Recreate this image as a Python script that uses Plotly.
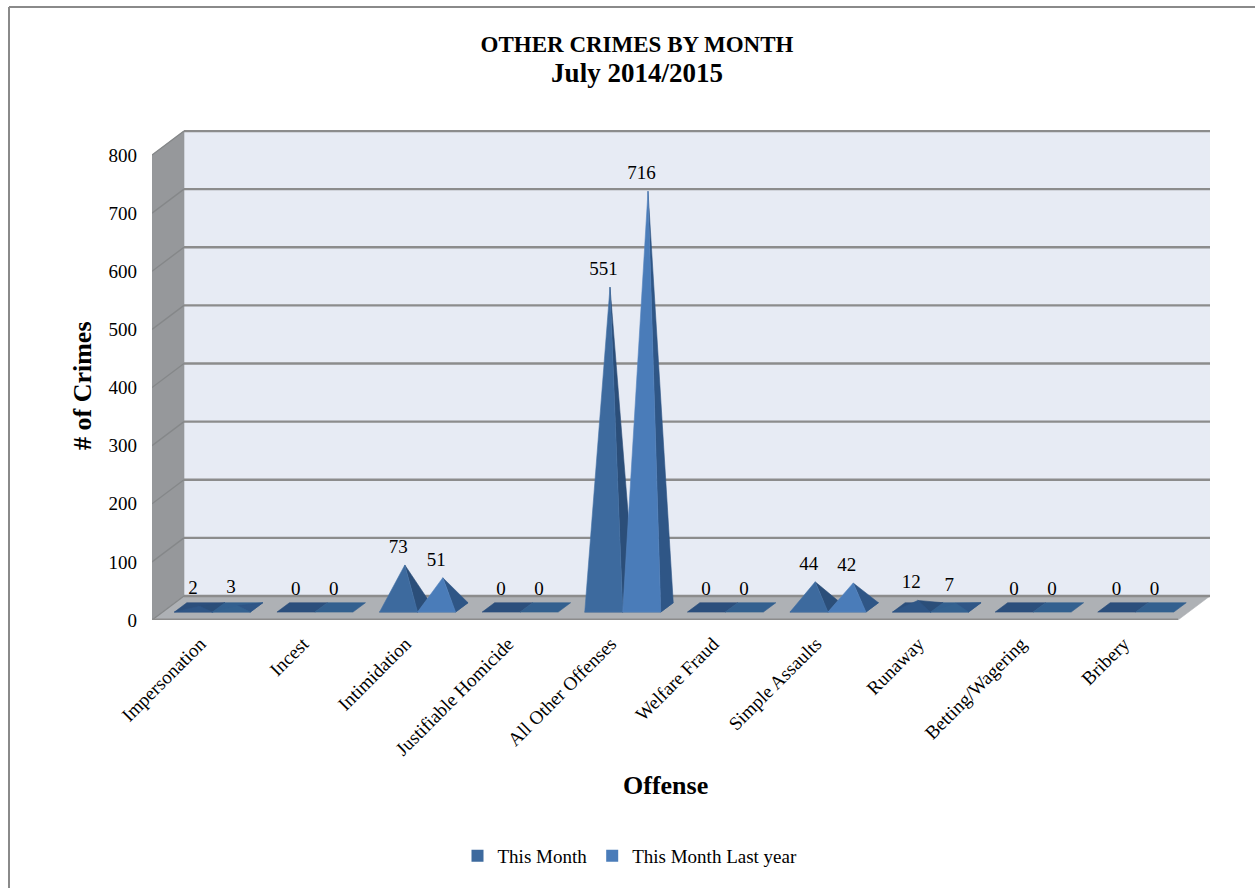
import plotly.graph_objects as go

offenses = ["Impersonation", "Incest", "Intimidation", "Justifiable Homicide", "All Other Offenses",
            "Welfare Fraud", "Simple Assaults", "Runaway", "Betting/Wagering", "Bribery"]
this_month = [2, 0, 73, 0, 551, 0, 44, 12, 0, 0]
last_year = [3, 0, 51, 0, 716, 0, 42, 7, 0, 0]
y_ticks = [0, 100, 200, 300, 400, 500, 600, 700, 800]

W, H = 1255, 888
L, R, T, B = 152, 1210, 130, 620      # plot box, px
PX_X = 102.6                          # px per category
PX_Y = (620 - 155) / 800              # px per crime
DX, DY = 32 / PX_X, 24 / PX_Y         # the depth vector, in axis units
SERIF = "Liberation Serif"


def proj(x, v, d):
    """Oblique projection: d is the depth from front (0) to back wall (1)."""
    return x + d * DX, v + d * DY


def add_poly(fig, items, fill, line=None, width=0.6):
    xs, ys = [], []
    for poly in items:
        for x, y in poly + poly[:1]:
            xs.append(x)
            ys.append(y)
        xs.append(None)
        ys.append(None)
    if xs:
        fig.add_trace(go.Scatter(x=xs, y=ys, mode="lines", fill="toself", fillcolor=fill,
                                 line=dict(color=line or fill, width=width),
                                 hoverinfo="skip", showlegend=False))


fig = go.Figure()
x0, x1 = -0.5, len(offenses) - 0.5

# walls and floor
add_poly(fig, [[proj(x0, 0, 1), proj(x1, 0, 1), proj(x1, 800, 1), proj(x0, 800, 1)]], "#E7EBF4")
add_poly(fig, [[proj(x0, 0, 0), proj(x0, 0, 1), proj(x0, 800, 1), proj(x0, 800, 0)]], "#96989B")
add_poly(fig, [[proj(x0, 0, 0), proj(x1, 0, 0), proj(x1, 0, 1), proj(x0, 0, 1)]], "#AEB1B5")

# gridlines
for t in y_ticks:
    a, b = proj(x0, t, 1), proj(x1, t, 1)
    fig.add_trace(go.Scatter(x=[a[0], b[0]], y=[a[1], b[1]], mode="lines", hoverinfo="skip",
                             line=dict(color="#8C8C8C", width=2.4), showlegend=False))
    c = proj(x0, t, 0)
    fig.add_trace(go.Scatter(x=[c[0], a[0]], y=[c[1], a[1]], mode="lines", hoverinfo="skip",
                             line=dict(color="#858789", width=1.4), showlegend=False))
fig.add_trace(go.Scatter(x=[x0, x1], y=[0, 0], mode="lines", hoverinfo="skip",
                         line=dict(color="#8C8C8C", width=3), showlegend=False))

# pyramids
D0, D1 = 0.33, 0.72
BAR = 38 / PX_X
SHIFT = -1.5 / PX_X
LOW = 20    # pyramids this short barely show their shading
styles = [
    (this_month, -BAR, "#2C4F7C", "#2B4E79", "#3D6A9E", "#4673A8", "#2F5686"),
    (last_year, 0.0, "#33608F", "#2F5686", "#4A7CB9", "#5585C0", "#346290"),
]
for values, off, base_c, side_c, front_c, edge_c, front_low in styles:
    bases, sides, fronts, fronts_low = [], [], [], []
    for i, v in enumerate(values):
        xl, xr = i + off + SHIFT, i + off + SHIFT + BAR
        fl, fr = proj(xl, 0, D0), proj(xr, 0, D0)
        bl, br = proj(xl, 0, D1), proj(xr, 0, D1)
        apex = proj((xl + xr) / 2, v, (D0 + D1) / 2)
        bases.append([fl, fr, br, bl])
        if v > 0:
            sides.append([fr, br, apex])
            (fronts if v > LOW else fronts_low).append([fl, fr, apex])
    add_poly(fig, bases, base_c)
    add_poly(fig, sides, side_c)
    add_poly(fig, fronts_low, front_low)
    add_poly(fig, fronts, front_c, edge_c)

# value labels
lab_x, lab_y, lab_t = [], [], []
for values, off in ((this_month, -BAR), (last_year, 0.0)):
    for i, v in enumerate(values):
        ax, ay = proj(i + off + SHIFT + BAR / 2, v, (D0 + D1) / 2)
        lab_x.append(ax - 6.5 / PX_X)
        lab_y.append(ay + 17 / PX_Y)
        lab_t.append(str(v))
fig.add_trace(go.Scatter(x=lab_x, y=lab_y, text=lab_t, mode="text", textposition="middle center",
                         textfont=dict(family=SERIF, size=19, color="#000000"),
                         hoverinfo="skip", showlegend=False))

# legend swatches
for name, col in (("This Month", "#3D6A9E"), ("This Month Last year", "#4A7CB9")):
    fig.add_trace(go.Scatter(x=[None], y=[None], mode="markers", name=name,
                             marker=dict(symbol="square", size=12, color=col)))


def px(x):
    return (x - L) / (R - L)


def py(y):
    return (B - y) / (B - T)


fig.update_layout(
    width=W, height=H, paper_bgcolor="#FFFFFF", plot_bgcolor="#FFFFFF",
    margin=dict(l=L, r=W - R, t=T, b=H - B, autoexpand=False),
    font=dict(family=SERIF, size=19, color="#000000"),
    title=dict(text="<b>OTHER CRIMES BY MONTH<br><span style='font-size:27px'>July 2014/2015</span></b>",
               x=637 / W, xanchor="center", y=1 - 52 / H, yanchor="middle",
               font=dict(family=SERIF, size=23, color="#000000")),
    xaxis=dict(range=[x0, x1 + DX], tickmode="array", tickvals=list(range(len(offenses))), ticktext=offenses,
               tickangle=-45, showgrid=False, zeroline=False, showline=False, ticks="",
               ticklabelstandoff=8, ticklabelshift=-3, tickfont=dict(family=SERIF, size=19)),
    yaxis=dict(range=[0, (B - T) / PX_Y], tickmode="array", tickvals=y_ticks, showgrid=False, zeroline=False,
               showline=False, ticks="", ticklabelstandoff=14, tickfont=dict(family=SERIF, size=19)),
    legend=dict(orientation="h", x=px(630), xanchor="center", y=py(856), yanchor="middle",
                font=dict(family=SERIF, size=19), itemwidth=30, bgcolor="rgba(0,0,0,0)"),
    annotations=[
        dict(text="<b>Offense</b>", xref="paper", yref="paper", x=px(665), y=py(785), showarrow=False,
             xanchor="center", yanchor="middle", font=dict(family=SERIF, size=26)),
        dict(text="<b># of Crimes</b>", xref="paper", yref="paper", x=px(82), y=py(386), showarrow=False,
             xanchor="center", yanchor="middle", textangle=-90, font=dict(family=SERIF, size=26)),
    ],
    shapes=[
        dict(type="line", xref="paper", yref="paper", x0=px(9), x1=px(1255), y0=py(7), y1=py(7),
             line=dict(color="#8A8A8A", width=2)),
        dict(type="line", xref="paper", yref="paper", x0=px(9), x1=px(9), y0=py(7), y1=py(888),
             line=dict(color="#8A8A8A", width=2)),
    ],
)

fig.write_html("out.html", config={"displayModeBar": False},
               post_script="document.body.style.margin='0';document.body.style.overflow='hidden';")
